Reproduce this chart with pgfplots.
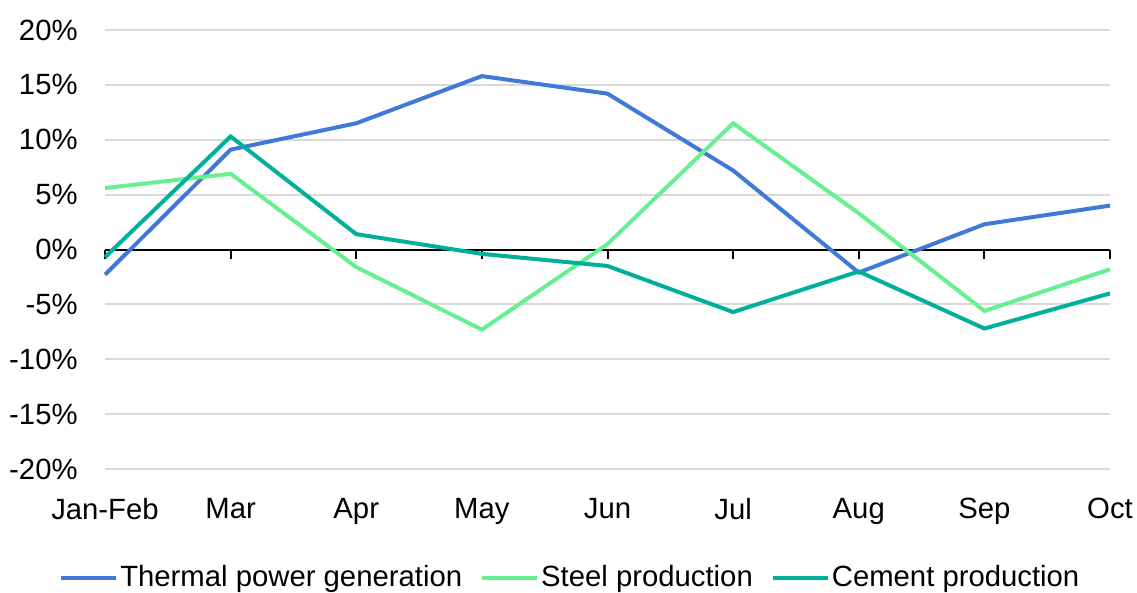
\documentclass[border=0pt]{standalone}
\usepackage{fontspec}
\setmainfont{Liberation Sans}
\usepackage{pgfplots}
\pgfplotsset{compat=1.18}
\definecolor{thermal}{HTML}{4179D8}
\definecolor{steel}{HTML}{66F08F}
\definecolor{cement}{HTML}{00B09B}
\definecolor{gridc}{HTML}{D9D9D9}
\begin{document}
\begin{tikzpicture}
\begin{axis}[
  scale only axis,
  width=502.5bp, height=219.5bp,
  xmin=0, xmax=8, ymin=-20, ymax=20,
  axis line style={draw=none},
  xtick={0,...,8},
  xticklabels={Jan-Feb,Mar,Apr,May,Jun,Jul,Aug,Sep,Oct},
  ytick={-20,-15,...,20},
  yticklabels={-20\%,-15\%,-10\%,-5\%,0\%,5\%,10\%,15\%,20\%},
  major tick length=0pt,
  ymajorgrids,
  grid style={gridc, line width=0.9bp},
  tick label style={font=\fontsize{14.7}{16}\selectfont},
  yticklabel style={anchor=east, inner sep=0pt, xshift=-13.5bp},
  xticklabel style={anchor=north, inner sep=0pt, yshift=-14.5bp},
  legend columns=3,
  legend style={draw=none, fill=none, at={(0.463,-0.248)}, anchor=center,
    font=\fontsize{14.7}{16}\selectfont, inner sep=0pt,
    nodes={inner sep=1bp},
    /tikz/every even column/.append style={column sep=8bp}},
  legend cell align=left,
  legend image code/.code={\draw[#1, line width=2bp] (0bp,0bp) -- (27.5bp,0bp);},
  clip=false,
]
\draw[black, line width=1bp] (axis cs:0,0) -- (axis cs:8,0);
\pgfplotsinvokeforeach{0,...,8}{
  \draw[black, line width=1bp] (axis cs:#1,0) -- ([yshift=-4.5bp]axis cs:#1,0);
}
\addplot[thermal, line width=2bp] coordinates {
(0,-2.3) (1,9.1) (2,11.5) (3,15.8) (4,14.2) (5,7.2) (6,-2.1) (7,2.3) (8,4.0)};
\addlegendentry{Thermal power generation}
\addplot[steel, line width=2bp] coordinates {
(0,5.6) (1,6.9) (2,-1.6) (3,-7.3) (4,0.5) (5,11.5) (6,3.3) (7,-5.6) (8,-1.8)};
\addlegendentry{Steel production}
\addplot[cement, line width=2bp] coordinates {
(0,-0.7) (1,10.3) (2,1.4) (3,-0.4) (4,-1.5) (5,-5.7) (6,-2.0) (7,-7.2) (8,-4.0)};
\addlegendentry{Cement production}
\end{axis}
\pgfresetboundingbox
\path (-52.5bp,-62bp) rectangle (516bp,234.5bp);
\end{tikzpicture}
\end{document}
